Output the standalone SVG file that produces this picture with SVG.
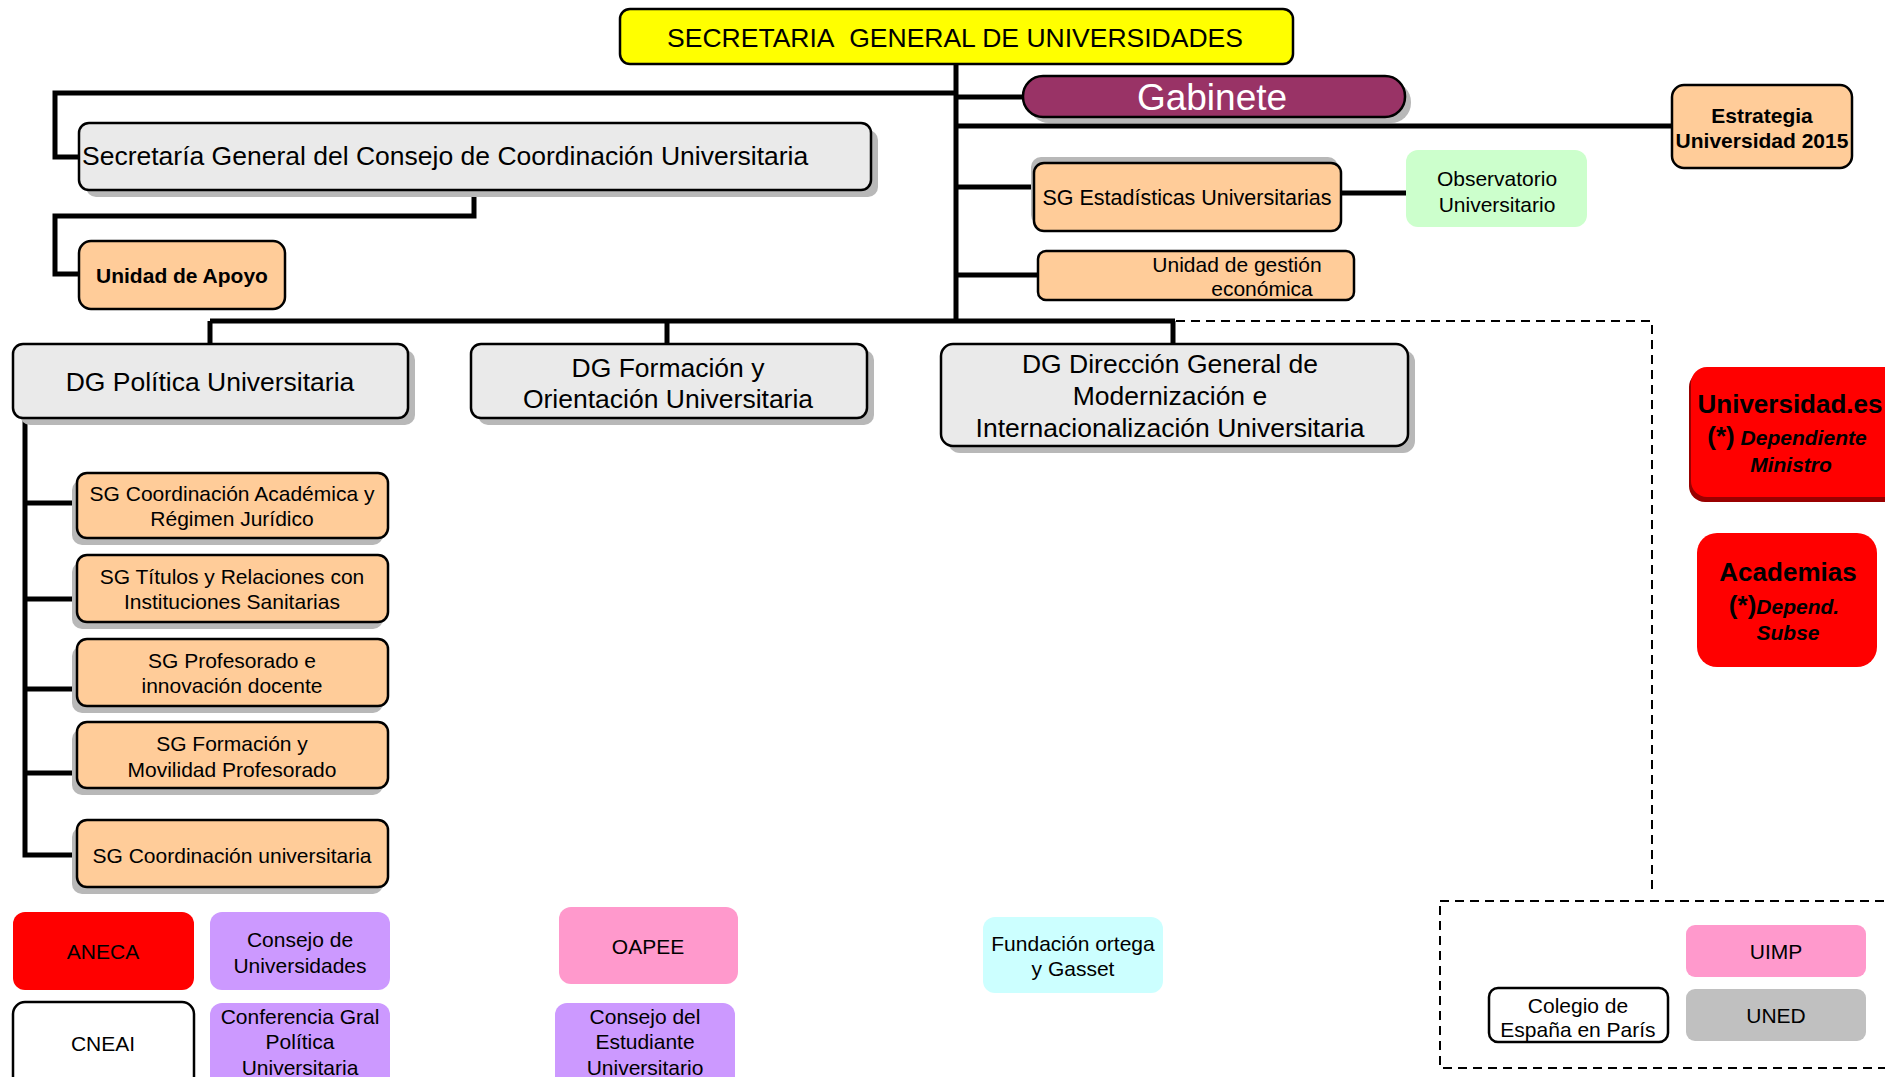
<svg xmlns="http://www.w3.org/2000/svg" width="1885" height="1077" viewBox="0 0 1885 1077">
<style>
text{font-family:"Liberation Sans",Arial,sans-serif;fill:#000;}
.t21{font-size:21px;text-anchor:middle;}
.t26{font-size:26.5px;text-anchor:middle;}
.b21{font-size:21px;font-weight:bold;text-anchor:middle;}
.box{stroke:#000;stroke-width:2.5;}
.sh{fill:#B8B8B8;stroke:none;}
.peach{fill:#FFCC99;}
.grey{fill:#EAEAEA;}
.conn{fill:none;stroke:#000;stroke-width:5;}
.dash{fill:none;stroke:#000;stroke-width:2;stroke-dasharray:9,6;}
.flat{stroke:none;}
</style>
<rect width="1885" height="1077" fill="#fff"/>

<g id="connectors">
<path class="conn" d="M956,64 V321"/>
<path class="conn" d="M956,93 H55 V157 H79"/>
<path class="conn" d="M956,97 H1023"/>
<path class="conn" d="M956,126 H1672"/>
<path class="conn" d="M956,187 H1034"/>
<path class="conn" d="M1341,193 H1407"/>
<path class="conn" d="M956,275 H1038"/>
<path class="conn" d="M474,190 V216 H55 V274 H79"/>
<path class="conn" d="M210,321 H1175"/>
<path class="conn" d="M210,321 V344"/>
<path class="conn" d="M667,321 V344"/>
<path class="conn" d="M1173,321 V344"/>
<path class="conn" d="M25,418 V855 H77"/>
<path class="conn" d="M25,503 H77 M25,599 H77 M25,689 H77 M25,773 H77"/>
<path class="dash" d="M1176,321 H1652 V892"/>
<rect class="dash" x="1440" y="901" width="470" height="167"/>
</g>

<g id="n-secretaria-general">
<rect class="box" x="620" y="9" width="673" height="55" rx="10" fill="#FFFF00"/>
<text x="955" y="47" style="font-size:26.5px;text-anchor:middle;">SECRETARIA&#160; GENERAL DE UNIVERSIDADES</text>
</g>

<g id="n-gabinete">
<rect class="sh" x="1029" y="82" width="382" height="41" rx="20"/>
<rect class="box" x="1023" y="76" width="382" height="41" rx="20" fill="#993366"/>
<text x="1212" y="110" style="font-size:37px;text-anchor:middle;fill:#fff;">Gabinete</text>
</g>

<g id="n-estrategia">
<rect class="box peach" x="1672" y="85" width="180" height="83" rx="12"/>
<text class="b21" x="1762" y="122.5">Estrategia</text>
<text class="b21" x="1762" y="147.5">Universidad 2015</text>
</g>

<g id="n-sg-consejo">
<rect class="sh" x="86" y="130" width="792" height="67" rx="10"/>
<rect class="box grey" x="79" y="123" width="792" height="67" rx="10"/>
<text x="82" y="165" style="font-size:26.5px;">Secretaría General del Consejo de Coordinación Universitaria</text>
</g>

<g id="n-unidad-apoyo">
<rect class="box peach" x="79" y="241" width="206" height="68" rx="12"/>
<text class="b21" x="182" y="282.5">Unidad de Apoyo</text>
</g>

<g id="n-sg-estadisticas">
<rect class="sh" x="1031" y="157" width="307" height="68" rx="10"/>
<rect class="box peach" x="1034" y="163" width="307" height="68" rx="10"/>
<text x="1187" y="204.5" style="font-size:21.5px;text-anchor:middle;">SG Estadísticas Universitarias</text>
</g>

<g id="n-observatorio">
<rect class="flat" x="1406" y="150" width="181" height="77" rx="12" fill="#CCFFCC"/>
<text class="t21" x="1497" y="185.5">Observatorio</text>
<text class="t21" x="1497" y="211.5">Universitario</text>
</g>

<g id="n-unidad-gestion">
<rect class="box peach" x="1038" y="251" width="316" height="49" rx="8"/>
<text class="t21" x="1237" y="271.5">Unidad de gestión</text>
<text class="t21" x="1262" y="295.5">económica</text>
</g>

<g id="n-dg-politica">
<rect class="sh" x="20" y="350" width="395" height="75" rx="10"/>
<rect class="box grey" x="13" y="344" width="395" height="74" rx="10"/>
<text class="t26" x="210" y="391">DG Política Universitaria</text>
</g>

<g id="n-dg-formacion">
<rect class="sh" x="478" y="350" width="396" height="75" rx="10"/>
<rect class="box grey" x="471" y="344" width="396" height="74" rx="10"/>
<text class="t26" x="668" y="377">DG Formación y</text>
<text class="t26" x="668" y="408">Orientación Universitaria</text>
</g>

<g id="n-dg-direccion">
<rect class="sh" x="948" y="350" width="467" height="103" rx="12"/>
<rect class="box grey" x="941" y="344" width="467" height="102" rx="12"/>
<text class="t26" x="1170" y="373">DG Dirección General de</text>
<text class="t26" x="1170" y="405">Modernización e</text>
<text class="t26" x="1170" y="437">Internacionalización Universitaria</text>
</g>

<g id="n-sg-coord-academica">
<rect class="sh" x="72" y="480" width="311" height="65" rx="10"/>
<rect class="box peach" x="77" y="473" width="311" height="65" rx="10"/>
<text class="t21" x="232" y="500.5">SG Coordinación Académica y</text>
<text class="t21" x="232" y="525.5">Régimen Jurídico</text>
</g>

<g id="n-sg-titulos">
<rect class="sh" x="72" y="562" width="311" height="67" rx="10"/>
<rect class="box peach" x="77" y="555" width="311" height="67" rx="10"/>
<text class="t21" x="232" y="583.5">SG Títulos y Relaciones con</text>
<text class="t21" x="232" y="608.5">Instituciones Sanitarias</text>
</g>

<g id="n-sg-profesorado">
<rect class="sh" x="72" y="646" width="311" height="67" rx="10"/>
<rect class="box peach" x="77" y="639" width="311" height="67" rx="10"/>
<text class="t21" x="232" y="667.5">SG Profesorado e</text>
<text class="t21" x="232" y="692.5">innovación docente</text>
</g>

<g id="n-sg-formacion">
<rect class="sh" x="72" y="729" width="311" height="66" rx="10"/>
<rect class="box peach" x="77" y="722" width="311" height="66" rx="10"/>
<text class="t21" x="232" y="750.5">SG Formación y</text>
<text class="t21" x="232" y="776.5">Movilidad Profesorado</text>
</g>

<g id="n-sg-coord-universitaria">
<rect class="sh" x="72" y="827" width="311" height="67" rx="10"/>
<rect class="box peach" x="77" y="820" width="311" height="67" rx="10"/>
<text class="t21" x="232" y="862.5">SG Coordinación universitaria</text>
</g>

<g id="n-universidad-es">
<rect x="1689" y="371" width="220" height="131" rx="16" fill="#990000"/>
<rect x="1691" y="367" width="220" height="130" rx="16" fill="#FF0000"/>
<text x="1790" y="413" style="font-size:26px;font-weight:bold;text-anchor:middle;">Universidad.es</text>
<text x="1787" y="445" style="font-weight:bold;text-anchor:middle;"><tspan style="font-size:26px;">(*)</tspan><tspan style="font-size:21px;font-style:italic;"> Dependiente</tspan></text>
<text x="1791" y="472" style="font-size:21px;font-weight:bold;font-style:italic;text-anchor:middle;">Ministro</text>
</g>

<g id="n-academias">
<rect x="1697" y="533" width="180" height="134" rx="20" fill="#FF0000"/>
<text x="1788" y="581" style="font-size:26px;font-weight:bold;text-anchor:middle;">Academias</text>
<text x="1784" y="614" style="font-weight:bold;text-anchor:middle;"><tspan style="font-size:26px;">(*)</tspan><tspan style="font-size:21px;font-style:italic;">Depend.</tspan></text>
<text x="1788" y="640" style="font-size:21px;font-weight:bold;font-style:italic;text-anchor:middle;">Subse</text>
</g>

<g id="n-aneca">
<rect class="flat" x="13" y="912" width="181" height="78" rx="12" fill="#FF0000"/>
<text class="t21" x="103" y="958.5">ANECA</text>
</g>

<g id="n-consejo-universidades">
<rect class="flat" x="210" y="912" width="180" height="78" rx="12" fill="#CC99FF"/>
<text class="t21" x="300" y="946.5">Consejo de</text>
<text class="t21" x="300" y="972.5">Universidades</text>
</g>

<g id="n-oapee">
<rect class="flat" x="559" y="907" width="179" height="77" rx="12" fill="#FF99CC"/>
<text class="t21" x="648" y="953.5">OAPEE</text>
</g>

<g id="n-cneai">
<rect class="box" x="13" y="1002" width="181" height="90" rx="12" fill="#fff"/>
<text class="t21" x="103" y="1050.5">CNEAI</text>
</g>

<g id="n-conferencia">
<rect class="flat" x="210" y="1003" width="180" height="90" rx="12" fill="#CC99FF"/>
<text class="t21" x="300" y="1023.5">Conferencia Gral</text>
<text class="t21" x="300" y="1048.5">Política</text>
<text class="t21" x="300" y="1074.5">Universitaria</text>
</g>

<g id="n-consejo-estudiante">
<rect class="flat" x="555" y="1003" width="180" height="90" rx="12" fill="#CC99FF"/>
<text class="t21" x="645" y="1023.5">Consejo del</text>
<text class="t21" x="645" y="1048.5">Estudiante</text>
<text class="t21" x="645" y="1074.5">Universitario</text>
</g>

<g id="n-fundacion">
<rect class="flat" x="983" y="917" width="180" height="76" rx="12" fill="#CCFFFF"/>
<text class="t21" x="1073" y="950.5">Fundación ortega</text>
<text class="t21" x="1073" y="975.5">y Gasset</text>
</g>

<g id="n-colegio">
<rect class="box" x="1489" y="988" width="179" height="54" rx="9" fill="#fff"/>
<text class="t21" x="1578" y="1012.5">Colegio de</text>
<text class="t21" x="1578" y="1036.5">España en París</text>
</g>

<g id="n-uimp">
<rect class="flat" x="1686" y="925" width="180" height="52" rx="9" fill="#FF99CC"/>
<text class="t21" x="1776" y="958.5">UIMP</text>
</g>

<g id="n-uned">
<rect class="flat" x="1686" y="989" width="180" height="52" rx="9" fill="#C0C0C0"/>
<text class="t21" x="1776" y="1022.5">UNED</text>
</g>
</svg>
